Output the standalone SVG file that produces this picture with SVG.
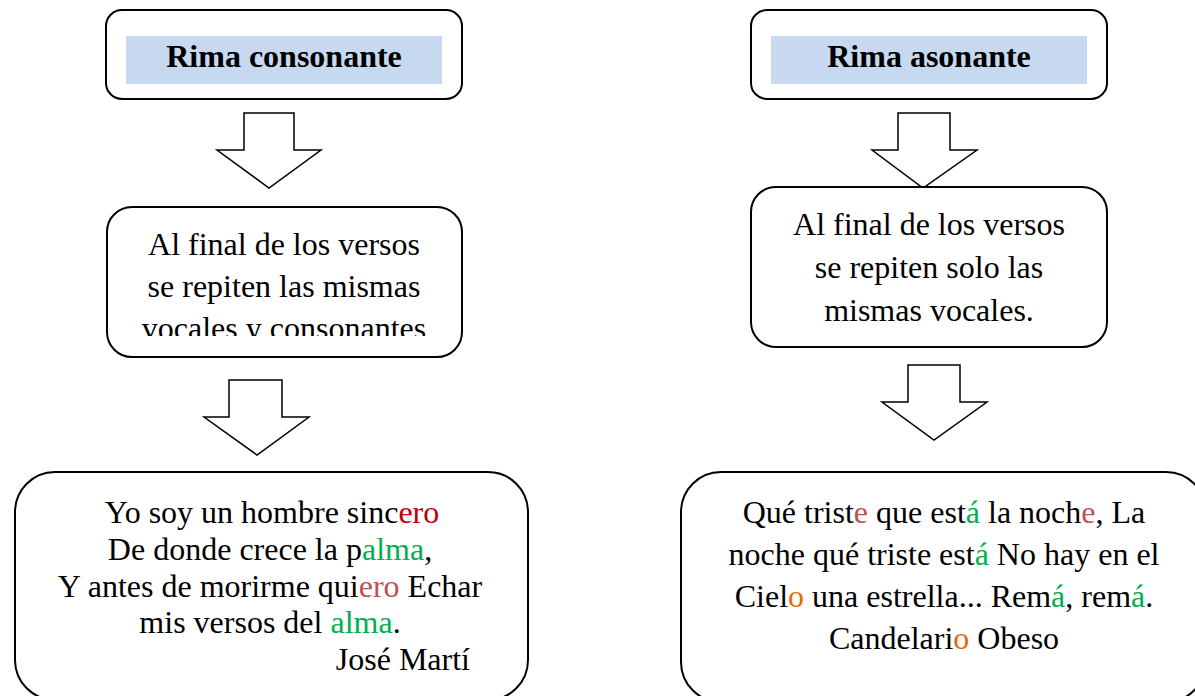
<svg xmlns="http://www.w3.org/2000/svg" width="1195" height="696" viewBox="0 0 1195 696">
<defs>
<style>
.box{fill:#fff;stroke:#000;stroke-width:2}
.arrow{fill:#fff;stroke:#000;stroke-width:1.5;stroke-linejoin:miter}
.hl{fill:#C6D9F1}
.title{font-family:"Liberation Serif","Times New Roman",serif;font-weight:bold;font-size:32px;fill:#000;text-anchor:middle}
.t{font-family:"Liberation Serif","Times New Roman",serif;font-size:32px;fill:#000;text-anchor:middle}
.r1{fill:#C00000}
.r2{fill:#C0504D}
.g{fill:#00B050}
.o{fill:#E36C09}
</style>
<clipPath id="clipL2"><rect x="107" y="207" width="355" height="129"/></clipPath>
</defs>
<g id="connectors">
<polygon class="arrow" points="244,113 294,113 294,150 321,150 269,188 217,150 244,150"/>
<polygon class="arrow" points="229,380 282,380 282,417 309,417 257,455 204,417 229,417"/>
<polygon class="arrow" points="898,113 950,113 950,150 977,150 923,188 872,150 898,150"/>
<polygon class="arrow" points="908,365 960,365 960,402 987,402 934,440 882,402 908,402"/>
</g>
<g id="node-rima-consonante">
<rect class="box" x="106" y="10" width="356" height="89" rx="16"/>
<rect class="hl" x="126" y="36" width="316" height="48"/>
<text class="title" x="284" y="67">Rima consonante</text>
</g>
<g id="node-rima-asonante">
<rect class="box" x="751" y="10" width="356" height="89" rx="16"/>
<rect class="hl" x="771" y="36" width="316" height="48"/>
<text class="title" x="929" y="67">Rima asonante</text>
</g>
<g id="node-def-consonante">
<rect class="box" x="107" y="207" width="355" height="150" rx="25"/>
<g clip-path="url(#clipL2)">
<text class="t" x="284" y="255">Al final de los versos</text>
<text class="t" x="284" y="297">se repiten las mismas</text>
<text class="t" x="284" y="339">vocales y consonantes</text>
</g>
</g>
<g id="node-def-asonante">
<rect class="box" x="751" y="187" width="356" height="160" rx="25"/>
<text class="t" x="929" y="235">Al final de los versos</text>
<text class="t" x="929" y="278">se repiten solo las</text>
<text class="t" x="929" y="321">mismas vocales.</text>
</g>
<g id="node-ejemplo-consonante">
<rect class="box" x="15" y="472" width="513" height="228" rx="40"/>
<text class="t" x="272" y="523">Yo soy un hombre sinc<tspan class="r1">ero</tspan></text>
<text class="t" x="270" y="560">De donde crece la p<tspan class="g">alma</tspan>,</text>
<text class="t" x="270" y="597">Y antes de morirme qui<tspan class="r2">ero</tspan> Echar</text>
<text class="t" x="270" y="633">mis versos del <tspan class="g">alma</tspan>.</text>
<text class="t" x="470" y="670" style="text-anchor:end">José Martí</text>
</g>
<g id="node-ejemplo-asonante">
<rect class="box" x="681" y="472" width="525" height="230" rx="40"/>
<text class="t" x="944" y="523">Qué trist<tspan class="r2">e</tspan> que est<tspan class="g">á</tspan> la noch<tspan class="r2">e</tspan>, La</text>
<text class="t" x="944" y="565">noche qué triste est<tspan class="g">á</tspan> No hay en el</text>
<text class="t" x="944" y="607">Ciel<tspan class="o">o</tspan> una estrella... Rem<tspan class="g">á</tspan>, rem<tspan class="g">á</tspan>.</text>
<text class="t" x="944" y="649">Candelari<tspan class="o">o</tspan> Obeso</text>
</g>
</svg>
